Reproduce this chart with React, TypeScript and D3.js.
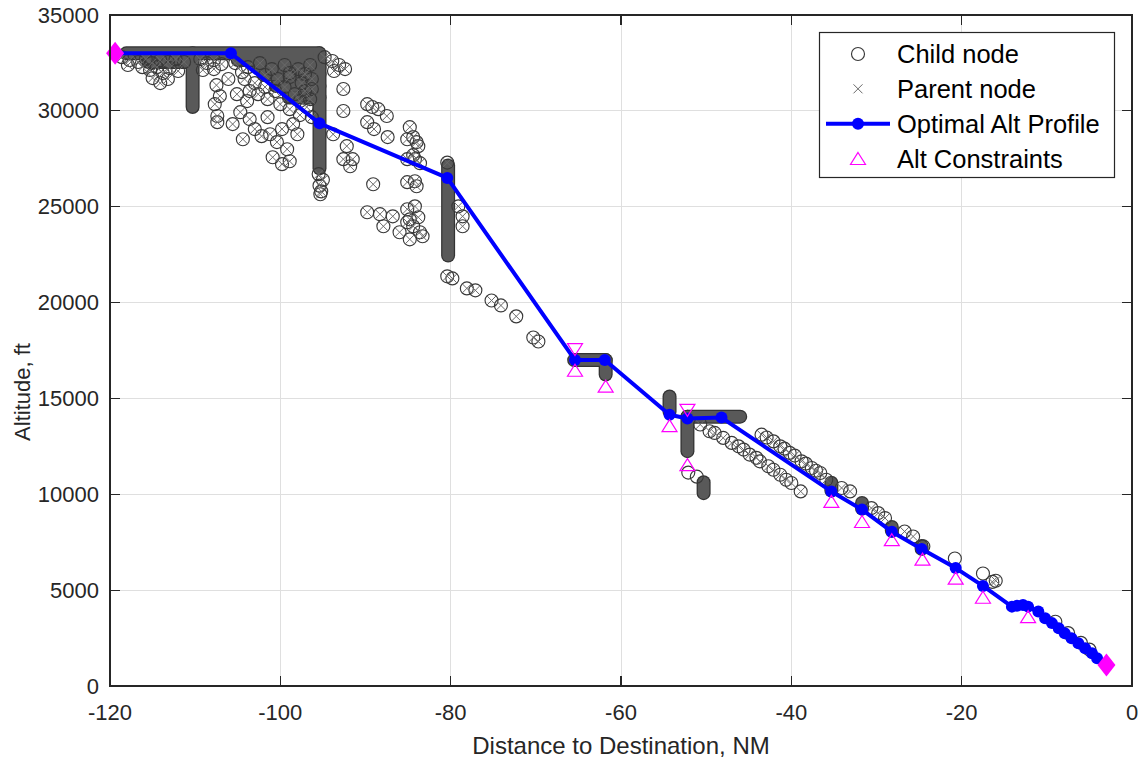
import React, { useRef, useEffect } from "react";
import * as d3 from "d3";

// axis ticks
const xTicks = [-120, -100, -80, -60, -40, -20, 0];
const yTicks = [0, 5000, 10000, 15000, 20000, 25000, 30000, 35000];

// optimal altitude profile: [distance NM, altitude ft]
const optimalProfile = [
  [-119.4, 33000], [-105.8, 33000], [-95.4, 29350], [-80.4, 26500],
  [-65.4, 17000], [-61.9, 17000], [-54.3, 14150], [-52.2, 13950],
  [-48.2, 14000], [-35.3, 10150], [-31.7, 9200], [-28.2, 8050],
  [-24.7, 7150], [-20.7, 6150], [-17.5, 5220], [-14.1, 4140],
  [-13.5, 4180], [-12.8, 4230], [-12.2, 4140], [-11.0, 3880],
  [-10.2, 3540], [-9.4, 3280], [-8.6, 3010], [-7.9, 2750],
  [-7.1, 2490], [-6.3, 2230], [-5.5, 1970], [-4.7, 1710],
  [-4.1, 1450], [-3.0, 1100],
];

// altitude constraints (at or above / at or below)
const altConstraintsAbove = [
  [-65.4, 16470], [-61.8, 15640], [-54.3, 13580], [-52.2, 11550],
  [-35.3, 9630], [-31.7, 8580], [-28.2, 7630], [-24.6, 6620],
  [-20.7, 5625], [-17.5, 4630], [-12.2, 3620],
];
const altConstraintsBelow = [[-65.4, 17550], [-52.2, 14380]];

// start / end fixes
const endFixes = [[-119.4, 33000], [-3.0, 1100]];

// stacks of heavily overlapping nodes: [x1, y1, x2, y2]
const denseNodeRuns = [
  [-118.1, 33000, -95.4, 33000],
  [-115.5, 32550, -111.0, 32550],
  [-105.0, 32650, -95.4, 32650],
  [-102.5, 32250, -95.4, 32250],
  [-102.0, 31900, -95.4, 31900],
  [-100.5, 31300, -95.4, 31300],
  [-99.0, 30700, -95.4, 30700],
  [-110.3, 33000, -110.3, 30200],
  [-95.4, 33000, -95.4, 27000],
  [-80.3, 27150, -80.3, 22450],
  [-65.5, 17000, -61.8, 17000],
  [-61.8, 17000, -61.8, 16250],
  [-54.3, 15100, -54.3, 14300],
  [-52.2, 14050, -46.0, 14050],
  [-52.2, 14050, -52.2, 12250],
  [-50.3, 10630, -50.3, 10060],
  [-35.3, 10600, -35.3, 10200],
  [-31.7, 9550, -31.7, 9250],
  [-28.2, 8300, -28.2, 8100],
  [-24.7, 7300, -24.7, 7150],
];

// expanded nodes (child circle + parent cross)
const parentNodes = [
  [-118.6, 32800], [-117.7, 32650], [-116.7, 32550], [-115.8, 32700], [-115.1, 32490],
  [-114.1, 32650], [-113.2, 32550], [-112.3, 32700], [-111.3, 32550], [-117.9, 32390],
  [-116.2, 32280], [-115.3, 32130], [-114.5, 32280], [-113.8, 31970], [-113.0, 32230],
  [-112.0, 32080], [-114.1, 31450], [-115.0, 31710], [-113.2, 31660], [-109.4, 32700],
  [-108.6, 32490], [-107.8, 32650], [-106.9, 32440], [-107.8, 32180], [-109.1, 32130],
  [-107.5, 31340], [-107.1, 30770], [-107.7, 30350], [-107.4, 29730], [-107.4, 29410],
  [-106.1, 31660], [-105.6, 29310], [-105.1, 30870], [-104.7, 29930], [-104.4, 28520],
  [-103.9, 30510], [-103.6, 29570], [-103.0, 29050], [-102.6, 30870], [-102.2, 28680],
  [-101.5, 29670], [-101.2, 28780], [-100.9, 27580], [-100.4, 28370], [-99.8, 29050],
  [-99.8, 27220], [-99.2, 28000], [-98.9, 30090], [-98.9, 27370], [-98.5, 29310],
  [-98.0, 28780], [-104.2, 31660], [-103.0, 31450], [-101.8, 31240], [-100.6, 31030],
  [-99.5, 31240], [-98.3, 30870], [-97.7, 30510], [-97.1, 31030], [-96.5, 30610],
  [-103.6, 31030], [-101.5, 30610], [-100.0, 30350], [-97.7, 29780], [-96.9, 30200],
  [-96.3, 29670], [-100.3, 31660], [-98.9, 31760], [-97.5, 31450], [-96.3, 31660],
  [-96.3, 31140], [-105.3, 32490], [-103.8, 32280], [-102.4, 32490], [-101.0, 32180],
  [-99.5, 32390], [-97.9, 32180], [-96.5, 32390], [-104.5, 32020], [-101.8, 31870],
  [-98.9, 31970], [-97.1, 31920],
  [-94.8, 32800], [-93.9, 32600], [-93.1, 32390], [-92.4, 32180], [-93.7, 32080],
  [-92.6, 31140], [-92.6, 29990], [-93.8, 28780], [-92.2, 28160], [-92.6, 27480],
  [-91.5, 27480], [-91.8, 27110],
  [-95.5, 26700], [-95.0, 26400], [-95.4, 26100], [-95.2, 25800], [-95.3, 25650],
  [-89.8, 30350], [-89.2, 30200], [-88.5, 30090], [-87.5, 29730], [-89.8, 29410],
  [-89.0, 29050], [-87.4, 28630], [-84.8, 29150], [-84.4, 28630], [-84.0, 28370],
  [-85.1, 28520], [-83.8, 28160], [-85.1, 27480], [-84.2, 27480], [-83.6, 27270],
  [-84.4, 27690], [-89.1, 26170], [-85.1, 26280], [-84.2, 26330], [-84.0, 26070],
  [-89.8, 24710], [-88.3, 24610], [-87.9, 23980], [-86.8, 24500], [-86.0, 23670],
  [-85.1, 24870], [-84.8, 24340], [-84.2, 25020], [-84.4, 23980], [-83.6, 23670],
  [-84.8, 23300], [-83.3, 23460], [-85.1, 24190], [-83.8, 24450],
  [-79.1, 25020], [-78.6, 24500], [-78.6, 23980], [-80.4, 27300],
  [-80.4, 21370], [-79.8, 21260], [-78.1, 20740], [-77.1, 20640], [-75.2, 20110],
  [-74.1, 19850], [-72.3, 19280], [-70.3, 18180], [-69.7, 17970],
  [-50.7, 13640], [-49.6, 13290], [-49.0, 13200], [-48.0, 12940], [-47.0, 12680],
  [-46.2, 12500], [-45.6, 12330], [-44.9, 12070], [-44.1, 11900], [-43.7, 11720],
  [-42.7, 11460], [-42.1, 11280], [-41.3, 11020], [-40.6, 10760], [-40.0, 10590],
  [-38.9, 10150],
  [-43.5, 13110], [-42.9, 12960], [-42.1, 12760], [-41.3, 12500], [-40.8, 12380],
  [-40.2, 12160], [-39.6, 12020], [-38.8, 11720], [-38.3, 11600], [-37.6, 11370],
  [-37.1, 11230], [-36.6, 11110], [-35.9, 10760], [-34.1, 10330], [-33.1, 10150],
  [-30.6, 9280], [-29.8, 9020], [-29.0, 8760], [-26.7, 8060], [-25.7, 7800],
  [-24.5, 7280], [-16.4, 5430], [-16.0, 5490],
];

// child nodes that were never expanded (circle only)
const leafNodes = [
  [-52.1, 11130], [-51.1, 10920], [-20.8, 6650], [-17.5, 5870],
  [-9.0, 3350], [-7.5, 2760], [-6.0, 2250], [-5.0, 1900],
];

const legendItems = ["Child node", "Parent node", "Optimal Alt Profile", "Alt Constraints"];

const FONT = "'Liberation Sans', Arial, Helvetica, sans-serif";
const AXIS = "#262626";

const App = () => {
  const svgRef = useRef(null);

  useEffect(() => {
    const svg = d3.select(svgRef.current);
    svg.selectAll("*").remove();

    const width = 1142;
    const height = 757;
    const margin = { top: 15, right: 10, bottom: 71, left: 110 };

    const x = d3.scaleLinear().domain([-120, 0]).range([margin.left, width - margin.right]);
    const y = d3.scaleLinear().domain([0, 35000]).range([height - margin.bottom, margin.top]);
    const [x0, x1] = x.range();
    const [y0, y1] = y.range();

    svg.append("rect").attr("width", width).attr("height", height).attr("fill", "#fff");

    // grid
    const grid = svg.append("g").attr("stroke", "#dfdfdf").attr("stroke-width", 1)
      .attr("shape-rendering", "crispEdges");
    grid.selectAll(".gx").data(xTicks.slice(1, -1)).join("line")
      .attr("x1", d => x(d)).attr("x2", d => x(d)).attr("y1", y1).attr("y2", y0);
    grid.selectAll(".gy").data(yTicks.slice(1, -1)).join("line")
      .attr("y1", d => y(d)).attr("y2", d => y(d)).attr("x1", x0).attr("x2", x1);

    // dense node stacks
    const runs = svg.append("g").attr("stroke-linecap", "round");
    runs.selectAll(".outer").data(denseNodeRuns).join("line")
      .attr("x1", d => x(d[0])).attr("y1", d => y(d[1]))
      .attr("x2", d => x(d[2])).attr("y2", d => y(d[3]))
      .attr("stroke", "#333").attr("stroke-width", 14);
    runs.selectAll(".inner").data(denseNodeRuns).join("line")
      .attr("class", "inner")
      .attr("x1", d => x(d[0])).attr("y1", d => y(d[1]))
      .attr("x2", d => x(d[2])).attr("y2", d => y(d[3]))
      .attr("stroke", "#595959").attr("stroke-width", 11.5);

    // child nodes (circles)
    const childNodes = [...parentNodes, ...leafNodes];
    svg.append("g").selectAll("circle").data(childNodes).join("circle")
      .attr("cx", d => x(d[0])).attr("cy", d => y(d[1])).attr("r", 6.5)
      .attr("fill", "none").attr("stroke", "#383838").attr("stroke-width", 1.15);

    // parent nodes (crosses)
    const cross = (s: number) => `M${-s},${-s}L${s},${s}M${-s},${s}L${s},${-s}`;
    svg.append("g").selectAll("path").data(parentNodes).join("path")
      .attr("transform", d => `translate(${x(d[0])},${y(d[1])})`)
      .attr("d", cross(4.5)).attr("fill", "none")
      .attr("stroke", "#6a6a6a").attr("stroke-width", 1);

    // optimal profile
    const line = d3.line().x(d => x(d[0])).y(d => y(d[1]));
    svg.append("path").datum(optimalProfile).attr("d", line)
      .attr("fill", "none").attr("stroke", "#0000ff").attr("stroke-width", 4)
      .attr("stroke-linejoin", "round");
    svg.append("g").selectAll("circle").data(optimalProfile).join("circle")
      .attr("cx", d => x(d[0])).attr("cy", d => y(d[1])).attr("r", 6)
      .attr("fill", "#0000ff");

    // altitude constraints
    const triUp = "M0,-6L7.5,6L-7.5,6Z";
    const triDown = "M0,6L7.5,-6L-7.5,-6Z";
    svg.append("g").selectAll("path").data(altConstraintsAbove).join("path")
      .attr("transform", d => `translate(${x(d[0])},${y(d[1])})`)
      .attr("d", triUp).attr("fill", "none").attr("stroke", "#ff00ff").attr("stroke-width", 1.2);
    svg.append("g").selectAll("path").data(altConstraintsBelow).join("path")
      .attr("transform", d => `translate(${x(d[0])},${y(d[1])})`)
      .attr("d", triDown).attr("fill", "none").attr("stroke", "#ff00ff").attr("stroke-width", 1.2);

    // start / end fixes
    svg.append("g").selectAll("path").data(endFixes).join("path")
      .attr("transform", d => `translate(${x(d[0])},${y(d[1])})`)
      .attr("d", "M0,-11.5L9,0L0,11.5L-9,0Z").attr("fill", "#ff00ff");

    // axes box and ticks
    const ax = svg.append("g").attr("stroke", AXIS).attr("stroke-width", 1.2)
      .attr("shape-rendering", "crispEdges");
    ax.append("rect").attr("x", x0).attr("y", y1).attr("width", x1 - x0).attr("height", y0 - y1)
      .attr("fill", "none");
    const tl = 10;
    ax.selectAll(".tb").data(xTicks).join("line")
      .attr("x1", d => x(d)).attr("x2", d => x(d)).attr("y1", y0).attr("y2", y0 - tl);
    ax.selectAll(".tt").data(xTicks).join("line").attr("class", "tt")
      .attr("x1", d => x(d)).attr("x2", d => x(d)).attr("y1", y1).attr("y2", y1 + tl);
    ax.selectAll(".tl").data(yTicks).join("line").attr("class", "tl")
      .attr("y1", d => y(d)).attr("y2", d => y(d)).attr("x1", x0).attr("x2", x0 + tl);
    ax.selectAll(".tr").data(yTicks).join("line").attr("class", "tr")
      .attr("y1", d => y(d)).attr("y2", d => y(d)).attr("x1", x1).attr("x2", x1 - tl);

    // tick labels
    svg.append("g").selectAll("text").data(xTicks).join("text")
      .attr("x", d => x(d)).attr("y", y0 + 26)
      .attr("text-anchor", "middle").attr("dominant-baseline", "central")
      .attr("font-family", FONT).attr("font-size", 22).attr("fill", AXIS)
      .text(d => d);
    svg.append("g").selectAll("text").data(yTicks).join("text")
      .attr("x", x0 - 11).attr("y", d => y(d))
      .attr("text-anchor", "end").attr("dominant-baseline", "central")
      .attr("font-family", FONT).attr("font-size", 22).attr("fill", AXIS)
      .text(d => d);

    // axis labels
    svg.append("text")
      .attr("x", (x0 + x1) / 2).attr("y", 745)
      .attr("text-anchor", "middle").attr("dominant-baseline", "central")
      .attr("font-family", FONT).attr("font-size", 24).attr("fill", AXIS)
      .text("Distance to Destination, NM");
    svg.append("text")
      .attr("transform", `translate(22,392)rotate(-90)`)
      .attr("text-anchor", "middle").attr("dominant-baseline", "central")
      .attr("font-family", FONT).attr("font-size", 22).attr("fill", AXIS)
      .text("Altitude, ft");

    // legend
    const lg = svg.append("g");
    lg.append("rect").attr("x", 819.5).attr("y", 32.5).attr("width", 295).attr("height", 145)
      .attr("fill", "#fff").attr("stroke", AXIS).attr("stroke-width", 1.2);
    const rowY = d3.scalePoint().domain(legendItems).range([54, 158.5]);
    const mx = 858;
    lg.selectAll("text").data(legendItems).join("text")
      .attr("x", 897).attr("y", d => rowY(d))
      .attr("dominant-baseline", "central")
      .attr("font-family", FONT).attr("font-size", 25.5).attr("fill", "#000")
      .text(d => d);
    lg.append("circle").attr("cx", mx).attr("cy", rowY("Child node")).attr("r", 6.5)
      .attr("fill", "none").attr("stroke", "#383838").attr("stroke-width", 1.15);
    lg.append("path").attr("transform", `translate(${mx},${rowY("Parent node")})`)
      .attr("d", cross(4.5)).attr("stroke", "#6a6a6a").attr("fill", "none");
    lg.append("line").attr("x1", 826).attr("x2", 890)
      .attr("y1", rowY("Optimal Alt Profile")).attr("y2", rowY("Optimal Alt Profile"))
      .attr("stroke", "#0000ff").attr("stroke-width", 4);
    lg.append("circle").attr("cx", mx).attr("cy", rowY("Optimal Alt Profile")).attr("r", 6)
      .attr("fill", "#0000ff");
    lg.append("path").attr("transform", `translate(${mx},${rowY("Alt Constraints")})`)
      .attr("d", triUp).attr("fill", "none").attr("stroke", "#ff00ff").attr("stroke-width", 1.2);
  }, []);

  return (
    <svg ref={svgRef} width={1142} height={757}
      style={{ position: "absolute", left: 0, top: 0, display: "block" }}></svg>
  );
};

export default App;
